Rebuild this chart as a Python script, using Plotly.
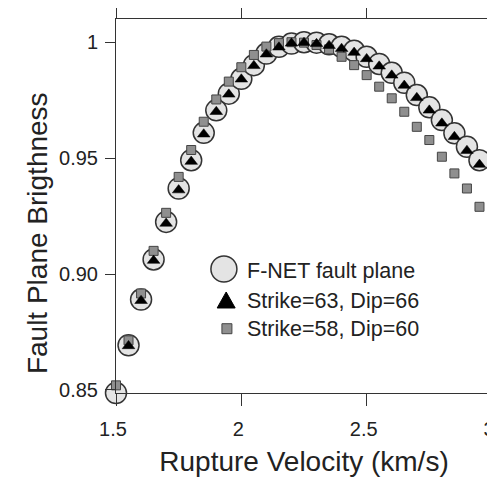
import plotly.graph_objects as go

# rupture velocity (km/s)
velocity = [1.5, 1.55, 1.6, 1.65, 1.7, 1.75, 1.8, 1.85, 1.9, 1.95,
            2.0, 2.05, 2.1, 2.15, 2.2, 2.25, 2.3, 2.35, 2.4, 2.45,
            2.5, 2.55, 2.6, 2.65, 2.7, 2.75, 2.8, 2.85, 2.9, 2.95]

fnet = [0.8487, 0.8693, 0.8890, 0.9063, 0.9225, 0.9369, 0.9491, 0.9609, 0.9706, 0.9778,
        0.9842, 0.9901, 0.9951, 0.9980, 0.9994, 1.0000, 0.9998, 0.9991, 0.9980, 0.9963,
        0.9937, 0.9906, 0.9868, 0.9825, 0.9772, 0.9719, 0.9664, 0.9607, 0.9549, 0.9491]

strike63 = [0.8480, 0.8690, 0.8885, 0.9058, 0.9218, 0.9362, 0.9485, 0.9603, 0.9700, 0.9775,
            0.9840, 0.9898, 0.9948, 0.9978, 0.9995, 0.9998, 0.9993, 0.9985, 0.9972, 0.9955,
            0.9928, 0.9896, 0.9857, 0.9813, 0.9760, 0.9706, 0.9650, 0.9592, 0.9532, 0.9472]

strike58 = [0.8520, 0.8714, 0.8916, 0.9100, 0.9264, 0.9419, 0.9535, 0.9657, 0.9753, 0.9830,
            0.9892, 0.9945, 0.9981, 0.9996, 1.0000, 0.9998, 0.9988, 0.9969, 0.9937, 0.9901,
            0.9858, 0.9808, 0.9758, 0.9700, 0.9635, 0.9578, 0.9506, 0.9434, 0.9369, 0.9290]

x_ticks = [1.5, 2, 2.5, 3]
x_ticktext = ['1.5', '2', '2.5', '3']
y_ticks = [0.85, 0.90, 0.95, 1.0]
y_ticktext = ['0.85', '0.90', '0.95', '1']

legend_labels = ['F-NET fault plane', 'Strike=63, Dip=66', 'Strike=58, Dip=60']

font_name = 'Liberation Sans, Arial, sans-serif'
text_color = '#222222'
circle_fill = '#e4e4e4'
square_fill = '#8f8f8f'

fig = go.Figure()

fig.add_trace(go.Scatter(
    x=velocity, y=fnet, mode='markers', name=legend_labels[0],
    cliponaxis=False, showlegend=False,
    marker=dict(symbol='circle', size=21, color=circle_fill,
                line=dict(width=1.5, color='#333333'))
))
fig.add_trace(go.Scatter(
    x=velocity, y=strike58, mode='markers', name=legend_labels[2],
    cliponaxis=False, showlegend=False,
    marker=dict(symbol='square', size=9, color=square_fill,
                line=dict(width=1, color='#444444'))
))
fig.add_trace(go.Scatter(
    x=velocity, y=strike63, mode='markers', name=legend_labels[1],
    cliponaxis=False, showlegend=False,
    marker=dict(symbol='triangle-up', size=11, color='black',
                line=dict(width=0.5, color='black'))
))

# hand-made legend (big symbols like the original figure)
sym_x = 0.293
legend_rows_y = [0.3316, 0.2487, 0.1719]
text_rows_y = [0.3262, 0.2452, 0.1703]

fig.add_shape(type='circle', xref='paper', yref='paper',
              xsizemode='pixel', ysizemode='pixel',
              xanchor=sym_x - 0.006, yanchor=legend_rows_y[0],
              x0=-13, x1=13, y0=-13, y1=13,
              fillcolor=circle_fill, line=dict(color='#333333', width=1.5))
fig.add_shape(type='path', xref='paper', yref='paper',
              xsizemode='pixel', ysizemode='pixel',
              xanchor=sym_x, yanchor=legend_rows_y[1],
              path='M-9,-8 L9,-8 L0,8 Z',
              fillcolor='black', line=dict(color='black', width=1))
fig.add_shape(type='rect', xref='paper', yref='paper',
              xsizemode='pixel', ysizemode='pixel',
              xanchor=sym_x + 0.002, yanchor=legend_rows_y[2],
              x0=-5, x1=5, y0=-5, y1=5,
              fillcolor=square_fill, line=dict(color='#444444', width=1))

for label, ty in zip(legend_labels, text_rows_y):
    fig.add_annotation(x=0.342, y=ty, xref='paper', yref='paper',
                       xanchor='left', yanchor='middle', showarrow=False,
                       text=label, font=dict(family=font_name, size=21.5, color=text_color))

# y title placed like the original (a bit below the middle of the frame)
fig.add_annotation(x=-0.207, y=0.428, xref='paper', yref='paper',
                   xanchor='center', yanchor='middle', showarrow=False,
                   textangle=-90, text='Fault Plane Brigthness',
                   font=dict(family=font_name, size=28, color=text_color))

axis_common = dict(
    showline=True, linecolor='#333333', linewidth=1, mirror='ticks',
    ticks='outside', tickwidth=1, tickcolor='#333333',
    showgrid=False, zeroline=False, automargin=False,
    tickfont=dict(family=font_name, size=20, color=text_color),
)

# the page puts the figure 8px in from the top-left corner, margins allow for that
fig.update_layout(
    width=495, height=483,
    margin=dict(l=108, r=11, t=11, b=98),
    paper_bgcolor='white', plot_bgcolor='white',
    font=dict(family=font_name, color=text_color),
    showlegend=False,
    xaxis=dict(range=[1.5, 3.0], tickvals=x_ticks, ticktext=x_ticktext,
               ticklen=12, ticklabelstandoff=6, ticklabelshift=-3,
               title=dict(text='Rupture Velocity (km/s)', font=dict(size=28), standoff=12),
               **axis_common),
    yaxis=dict(range=[0.8487, 1.0100], tickvals=y_ticks, ticktext=y_ticktext,
               ticklen=10, ticklabelstandoff=3,
               **axis_common),
)

fig.write_html("out.html")
